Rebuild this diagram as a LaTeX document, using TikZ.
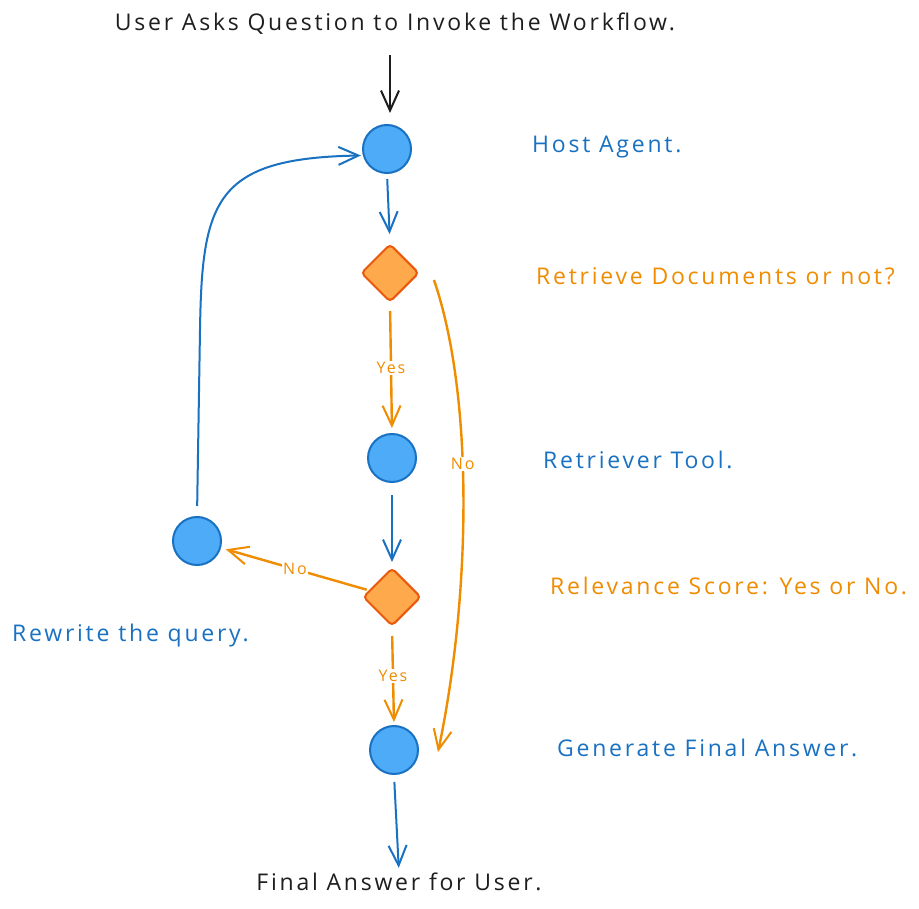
\documentclass[tikz,border=0pt]{standalone}
\usepackage{fontspec}
\setmainfont{Open Sans}[LetterSpace=12]
\usetikzlibrary{arrows.meta,calc,shapes.geometric}
\definecolor{xblue}{HTML}{1971C2}
\definecolor{xfill}{HTML}{4DABF7}
\definecolor{xorange}{HTML}{F08C00}
\definecolor{xdfill}{HTML}{FFA94D}
\definecolor{xdline}{HTML}{E8590C}
\definecolor{xblack}{HTML}{1E1E1E}
\begin{document}
\begin{tikzpicture}[x=1pt,y=-1pt,
  circ/.style={circle, draw=xblue, fill=xfill, line width=2, minimum size=48, inner sep=0},
  dmd/.style={diamond, aspect=1, draw=xdline, fill=xdfill, line width=2, rounded corners=4, minimum width=58, minimum height=58, inner sep=0},
  txt/.style={inner sep=0, font=\fontsize{23}{27}\selectfont},
  btxt/.style={txt, text=xblue, anchor=west},
  otxt/.style={txt, text=xorange, anchor=west},
  lbl/.style={fill=white, inner sep=1.5, text=xorange, font=\fontsize{16}{16}\selectfont},
  tip/.style={-{Straight Barb[length=20, width=18, line width=2]}},
  karr/.style={tip, draw=xblack, line width=2.6},
  barr/.style={tip, draw=xblue, line width=2},
  oarr/.style={tip, draw=xorange, line width=2.4},
]
\useasboundingbox[fill=white] (0,0) rectangle (919,909);

\node[txt, text=xblack] (title) at (395,24) {User Asks Question to Invoke the Workflow.};
\node[circ] (host) at (387,149) {};
\node[dmd] (d1) at (390,273) {};
\node[circ] (retr) at (392,458) {};
\node[dmd] (d2) at (392,597) {};
\node[circ] (rew) at (197,541) {};
\node[circ] (gen) at (394,750) {};
\node[txt, text=xblack] (final) at (399,882) {Final Answer for User.};

\node[btxt] (lhost) at (532,147) {Host Agent.};
\node[otxt] (ld1) at (536,276) {Retrieve Documents or not?};
\node[btxt] (lretr) at (543,460) {Retriever Tool.};
\node[otxt] (ld2) at (550,586) {Relevance Score: Yes or No.};
\node[btxt] (lgen) at (557,748) {Generate Final Answer.};
\node[btxt, anchor=west] (lrew) at (12,636) {Rewrite the query.};

\draw[karr, shorten <=20, shorten >=11] ($(host.north |- title.south)+(3,0)$) -- ($(host.north)+(3,0)$);
\draw[barr, shorten <=5, shorten >=9] (host.south) -- (d1.north);
\draw[oarr, shorten <=8, shorten >=5] (d1.south) -- node[lbl]{Yes} (retr.north);
\draw[oarr] ($(d1.east)+(14,7)$) .. controls (475,400) and (470,600) .. node[lbl, pos=0.42]{No} ($(gen.east)+(19,2)$);
\draw[barr, shorten <=12, shorten >=5] (retr.south) -- (d2.north);
\draw[oarr, shorten <=2, shorten >=5] (d2) -- node[lbl]{No} (rew);
\draw[oarr, shorten <=9, shorten >=3] (d2.south) -- node[lbl]{Yes} (gen.north);
\draw[barr, shorten <=7, shorten >=5] (gen.south) -- (final.north);
\draw[barr, shorten <=10, shorten >=2] (rew.north) -- ++(3,-186) .. controls (202,200) and (215,158) .. (host.195);
\end{tikzpicture}
\end{document}
